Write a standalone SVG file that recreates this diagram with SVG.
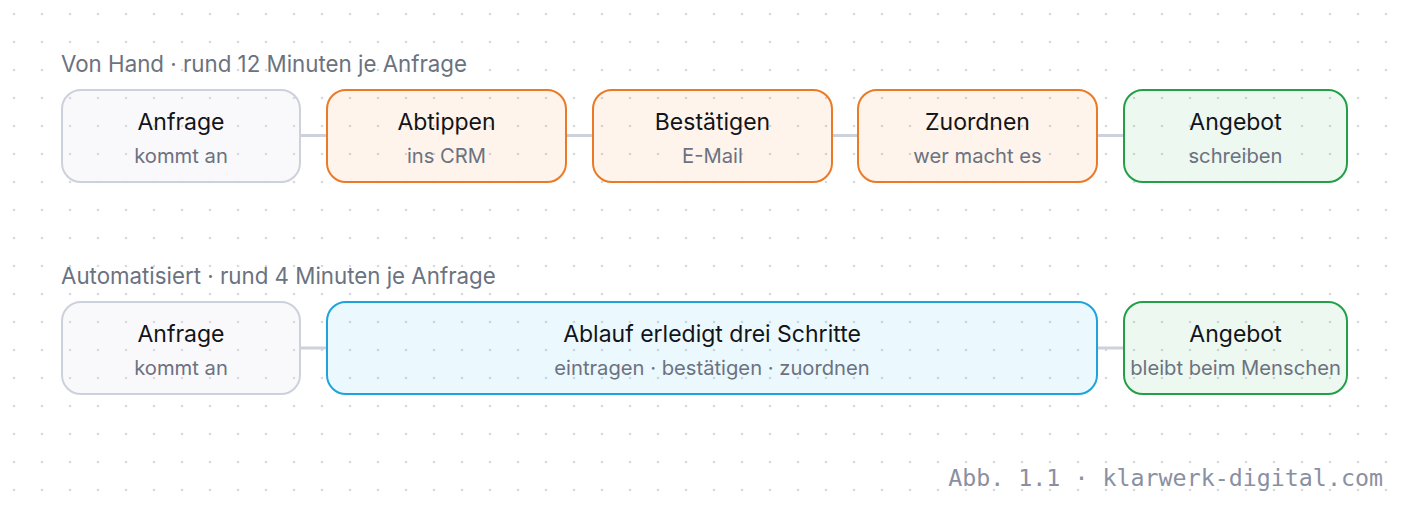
<svg xmlns="http://www.w3.org/2000/svg" width="1408" height="508" viewBox="0 0 1408 508">
<defs>
<pattern id="dots" x="0" y="0" width="28" height="28" patternUnits="userSpaceOnUse">
<circle cx="14" cy="14" r="1.3" fill="#d6d9e0"/>
</pattern>
<style>
.t{font-family:Inter,"Noto Sans",sans-serif;font-size:23px;fill:#121418;text-anchor:middle}
.s{font-family:Inter,"Noto Sans",sans-serif;font-size:20.2px;fill:#6b7280;text-anchor:middle}
.sec{font-family:Inter,"Noto Sans",sans-serif;font-size:22.3px;fill:#6b7280}
.cap{font-family:"DejaVu Sans Mono","Liberation Mono",monospace;font-size:23.3px;fill:#8a90a2;text-anchor:end}
.grey{fill:#dde0ea;fill-opacity:0.18;stroke:#cdd1dc;stroke-width:2}
.orange{fill:#f68a2e;fill-opacity:0.09;stroke:#ea7a26;stroke-width:2}
.green{fill:#3cb05a;fill-opacity:0.09;stroke:#23a047;stroke-width:2}
.blue{fill:#3cbcf0;fill-opacity:0.1;stroke:#1ea4dc;stroke-width:2}
.conn{stroke:#cdd1dc;stroke-width:3;fill:none}
</style>
</defs>
<rect width="1408" height="508" fill="#ffffff"/>
<rect width="1408" height="508" fill="url(#dots)"/>
<text class="sec" x="61" y="72">Von Hand · rund 12 Minuten je Anfrage</text>
<text class="sec" x="61" y="284">Automatisiert · rund 4 Minuten je Anfrage</text>
<g id="connectors">
<line class="conn" x1="301" y1="135.5" x2="326" y2="135.5"/>
<line class="conn" x1="567" y1="135.5" x2="592" y2="135.5"/>
<line class="conn" x1="833" y1="135.5" x2="857" y2="135.5"/>
<line class="conn" x1="1098" y1="135.5" x2="1123" y2="135.5"/>
<line class="conn" x1="301" y1="348" x2="326" y2="348"/>
<line class="conn" x1="1098" y1="348" x2="1123" y2="348"/>
</g>
<g id="n1">
<rect class="grey" x="62" y="90" width="238" height="92" rx="19"/>
<text class="t" x="181" y="129.5">Anfrage</text>
<text class="s" x="181" y="162.5">kommt an</text>
</g>
<g id="n2">
<rect class="orange" x="327" y="90" width="239" height="92" rx="19"/>
<text class="t" x="446.5" y="129.5">Abtippen</text>
<text class="s" x="446.5" y="162.5">ins CRM</text>
</g>
<g id="n3">
<rect class="orange" x="593" y="90" width="239" height="92" rx="19"/>
<text class="t" x="712.5" y="129.5">Bestätigen</text>
<text class="s" x="712.5" y="162.5">E-Mail</text>
</g>
<g id="n4">
<rect class="orange" x="858" y="90" width="239" height="92" rx="19"/>
<text class="t" x="977.5" y="129.5">Zuordnen</text>
<text class="s" x="977.5" y="162.5">wer macht es</text>
</g>
<g id="n5">
<rect class="green" x="1124" y="90" width="223" height="92" rx="19"/>
<text class="t" x="1235.5" y="129.5">Angebot</text>
<text class="s" x="1235.5" y="162.5">schreiben</text>
</g>
<g id="n6">
<rect class="grey" x="62" y="302" width="238" height="92" rx="19"/>
<text class="t" x="181" y="341.5">Anfrage</text>
<text class="s" x="181" y="374.5">kommt an</text>
</g>
<g id="n7">
<rect class="blue" x="327" y="302" width="770" height="92" rx="19"/>
<text class="t" x="712" y="341.5">Ablauf erledigt drei Schritte</text>
<text class="s" x="712" y="374.5">eintragen · bestätigen · zuordnen</text>
</g>
<g id="n8">
<rect class="green" x="1124" y="302" width="223" height="92" rx="19"/>
<text class="t" x="1235.5" y="341.5">Angebot</text>
<text class="s" x="1235.5" y="374.5">bleibt beim Menschen</text>
</g>
<text class="cap" x="1383" y="486">Abb. 1.1 · klarwerk-digital.com</text>
</svg>
